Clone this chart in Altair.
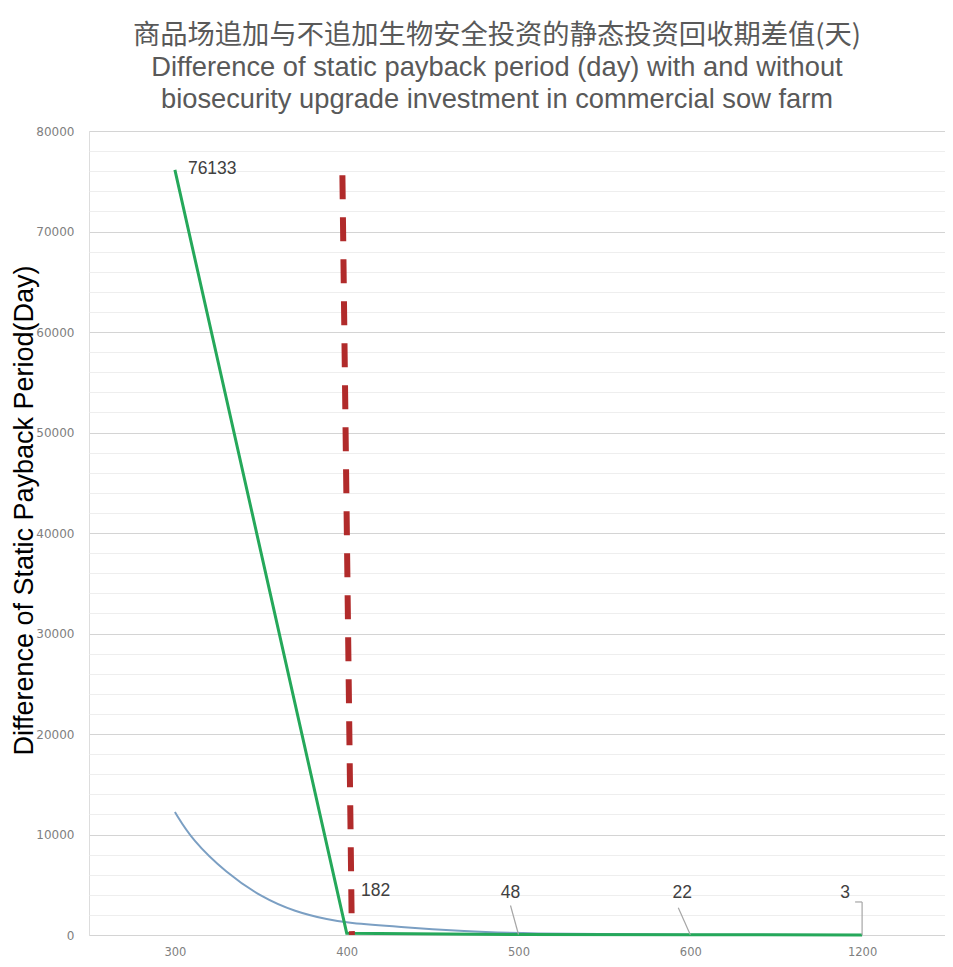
import json
import altair as alt
import pandas as pd

# ---------------- data ----------------
categories = ["300", "400", "500", "600", "1200"]
green_values = [76133, 182, 48, 22, 3]

# smooth blue trend curve (position on category axis, value)
blue_pos = [1.0, 1.1, 1.3, 1.5, 1.7, 1.9, 2.0, 2.3, 2.7, 3.0, 4.0, 5.0]
blue_values = [12240, 9450, 6170, 3800, 2300, 1500, 1200, 800, 350, 150, 15, 1]

# red dashed reference line (top point first, then bottom point)
ref_pos = [1.975, 2.03]
ref_values = [75600, 0]

y_major = list(range(0, 80001, 10000))
y_minor = list(range(0, 80001, 2000))

title_cn = "商品场追加与不追加生物安全投资的静态投资回收期差值(天)"
title_en = ["Difference of static payback period (day) with and without",
            "biosecurity upgrade investment  in commercial sow farm"]
y_title = "Difference of Static Payback Period(Day)"

# ---------------- tables ----------------
green_df = pd.DataFrame({"idx": list(range(1, len(categories) + 1)),
                         "cat": categories, "value": green_values})
green_df["label"] = green_df["value"].astype(str)
blue_df = pd.DataFrame({"idx": blue_pos, "value": blue_values})
ref_df = pd.DataFrame({"idx": ref_pos, "value": ref_values, "order": [0, 1]})

W, H = 856, 804
STEP = 171.8
FONT = "Liberation Sans"
TICK_FONT = "DejaVu Sans"
xs = alt.Scale(domain=[0.5, 0.5 + W / STEP], nice=False, zero=False)
ys = alt.Scale(domain=[0, 80000], nice=False)

label_expr = json.dumps(categories) + "[datum.value - 1]"

x_axis = alt.Axis(values=list(range(1, len(categories) + 1)), labelExpr=label_expr,
                  grid=False, ticks=False, domain=False, title=None,
                  labelColor="#808080", labelFont=TICK_FONT, labelFontSize=11.5,
                  labelPadding=11)

y_axis_major = alt.Axis(values=y_major, grid=True, gridColor="#d4d4d4", gridWidth=1,
                        ticks=False, domain=False, labelColor="#808080",
                        labelFont=TICK_FONT, labelFontSize=12, labelPadding=15,
                        format="d",
                        title=y_title, titleFont=FONT, titleFontSize=27,
                        titleFontWeight="normal", titleColor="#000000",
                        titleX=-57, titleY=379, titleAngle=270,
                        titleBaseline="alphabetic", titleAlign="center")

y_axis_minor = alt.Axis(values=y_minor, grid=True, gridColor="#eeeeee", gridWidth=1,
                        ticks=False, domain=False, labels=False, title=None,
                        orient="right")

X = alt.X("idx:Q", scale=xs, axis=x_axis)

# minor grid carrier + blue trend curve
blue = alt.Chart(blue_df).mark_line(color="#7b9fc3", strokeWidth=2,
                                    interpolate="basis").encode(
    x=X,
    y=alt.Y("value:Q", scale=ys, axis=y_axis_minor),
)

green = alt.Chart(green_df).mark_line(color="#25a85a", strokeWidth=3).encode(
    x=X,
    y=alt.Y("value:Q", scale=ys, axis=y_axis_major),
)

ref = alt.Chart(ref_df).mark_line(color="#b12b2b", strokeWidth=6,
                                  strokeDash=[24, 18], strokeCap="butt").encode(
    x=X,
    y=alt.Y("value:Q", scale=ys, axis=None),
    order="order:Q",
)

def lab(cat, dx, dy, align="center"):
    return alt.Chart(green_df).transform_filter(alt.datum.cat == cat).mark_text(
        font=FONT, fontSize=17.5, color="#404040", align=align,
        baseline="middle", dx=dx, dy=dy).encode(
        x=X, y=alt.Y("value:Q", scale=ys, axis=None), text="label:N")

def leader(cat, xo, yo, x2o=0, y2o=0):
    return alt.Chart(green_df).transform_filter(alt.datum.cat == cat).mark_rule(
        color="#a6a6a6", strokeWidth=1.2, xOffset=xo, yOffset=yo,
        x2Offset=x2o, y2Offset=y2o).encode(
        x=X, y=alt.Y("value:Q", scale=ys, axis=None),
        x2="idx:Q", y2="value:Q")

labels = [
    lab("300", 13, -1, "left"),
    lab("400", 29, -42),
    lab("500", -8, -42),
    lab("600", -8, -42),
    lab("1200", -17, -42),
    leader("500", -8, -29),
    leader("600", -12, -27),
    leader("1200", -7, -33, 0, -33),
    leader("1200", 0, -33),
]

chart = alt.layer(blue, green, ref, *labels).resolve_axis(y="independent").properties(
    width=W, height=H,
    padding={"left": 81, "top": 123, "right": 0, "bottom": 24},
    autosize=alt.AutoSizeParams(type="none"),
    title=alt.Title(text=title_cn, subtitle=title_en,
                    font="Noto Sans CJK SC", fontSize=27.3, fontWeight="normal",
                    color="#595959", subtitleFont=FONT, subtitleFontSize=27.3,
                    subtitleColor="#595959", subtitleLineHeight=32,
                    subtitlePadding=4, anchor="middle", dx=-20, offset=12),
).configure_view(stroke=None).configure(background="white")

chart.save("out.html", embed_options={"renderer": "svg", "actions": False})
